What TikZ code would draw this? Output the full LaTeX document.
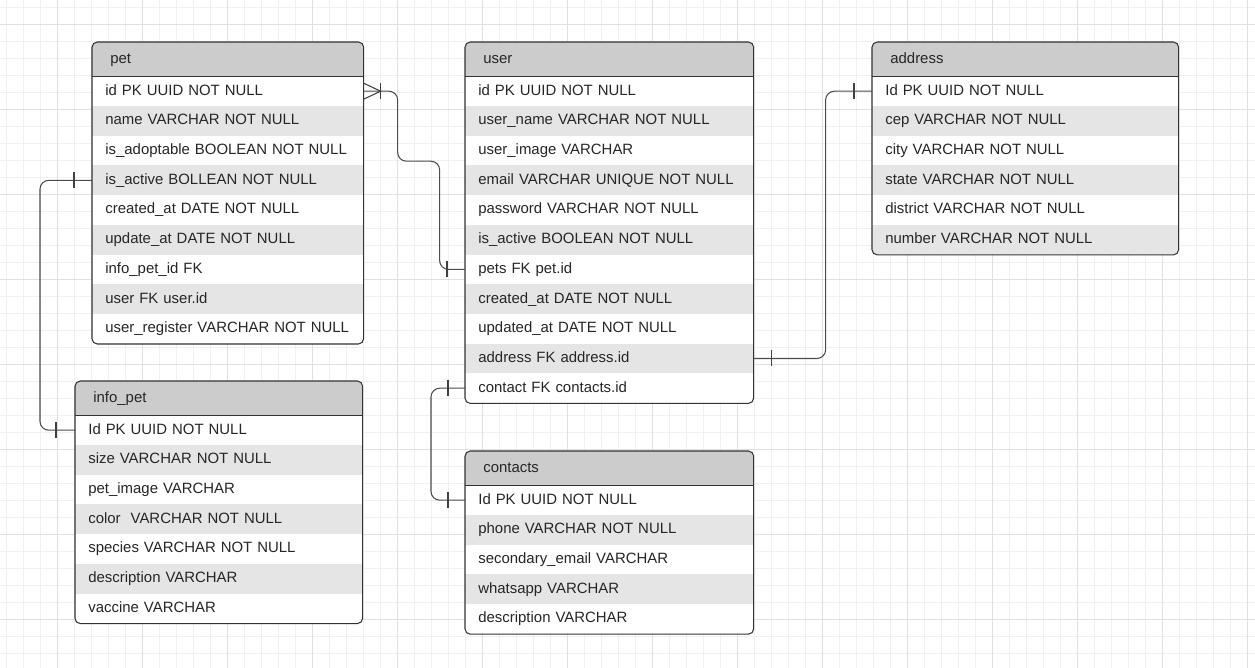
\documentclass[tikz,border=0pt]{standalone}
\usepackage{fontspec}
\setmainfont{Liberation Sans}
\usetikzlibrary{calc}

\begin{document}
\begin{tikzpicture}[x=0.02cm, y=-0.02cm, font=\fontsize{8.5}{10}\selectfont,
	head/.style={rectangle, anchor=north west, fill=black!20, text=black!85, inner xsep=0.36cm, inner ysep=0pt, minimum height=0.68cm, text height=6.3pt, text depth=1.8pt, text width=\hw},
	row/.style={rectangle, anchor=north west, fill=white, text=black!85, inner xsep=0.26cm, inner ysep=0pt, minimum height=0.594cm, text height=6.3pt, text depth=1.8pt, text width=\rw},
	alt/.style={row, fill=black!10},
	tbl/.style={draw=black!80, line width=0.6pt, rounded corners=3pt},
	link/.style={draw=black!70, line width=0.6pt, rounded corners=5pt},
	tick/.style={draw=black!75, line width=0.6pt},
	minorgrid/.style={draw=black!6, line width=0.45pt},
	majorgrid/.style={draw=black!12, line width=0.5pt}]
			%%%%% START %%%%%
			
			\useasboundingbox (0,0) rectangle (1255,668);
			\fill[white] (0,0) rectangle (1255,668);
			
			\foreach \gx in {6,23,...,1255} \draw[minorgrid] (\gx,0) -- (\gx,668);
			\foreach \gy in {7,24,...,668} \draw[minorgrid] (0,\gy) -- (1255,\gy);
			\foreach \gx in {57,142,...,1255} \draw[majorgrid] (\gx,0) -- (\gx,668);
			\foreach \gy in {24,109,...,668} \draw[majorgrid] (0,\gy) -- (1255,\gy);
			
			% pet
			\begin{scope}
				\def\hw{4.70cm}\def\rw{4.90cm}
				\clip[rounded corners=3pt] (92,42) rectangle (363,343.3);
				\node[head] (pet) at (92,42) {pet};
				\node[row] (pet-id) at (92,76) {id PK UUID NOT NULL};
				\node[alt] (pet-name) at (92,105.7) {name VARCHAR NOT NULL};
				\node[row] (pet-adoptable) at (92,135.4) {is\_adoptable BOOLEAN NOT NULL};
				\node[alt] (pet-active) at (92,165.1) {is\_active BOLLEAN NOT NULL};
				\node[row] (pet-created) at (92,194.8) {created\_at DATE NOT NULL};
				\node[alt] (pet-update) at (92,224.5) {update\_at DATE NOT NULL};
				\node[row] (pet-info) at (92,254.2) {info\_pet\_id FK};
				\node[alt] (pet-user) at (92,283.9) {user FK user.id};
				\node[row] (pet-register) at (92,313.6) {user\_register VARCHAR NOT NULL};
			\end{scope}
			\draw[tbl] (pet.north west) rectangle (pet-register.south east);
			\draw[tbl] (pet.south west) -- (pet.south east);
			
			% user
			\begin{scope}
				\def\hw{5.04cm}\def\rw{5.24cm}
				\clip[rounded corners=3pt] (465,42) rectangle (753,402.7);
				\node[head] (user) at (465,42) {user};
				\node[row] (user-id) at (465,76) {id PK UUID NOT NULL};
				\node[alt] (user-name) at (465,105.7) {user\_name VARCHAR NOT NULL};
				\node[row] (user-image) at (465,135.4) {user\_image VARCHAR};
				\node[alt] (user-email) at (465,165.1) {email VARCHAR UNIQUE NOT NULL};
				\node[row] (user-password) at (465,194.8) {password VARCHAR NOT NULL};
				\node[alt] (user-active) at (465,224.5) {is\_active BOOLEAN NOT NULL};
				\node[row] (user-pets) at (465,254.2) {pets FK pet.id};
				\node[alt] (user-created) at (465,283.9) {created\_at DATE NOT NULL};
				\node[row] (user-updated) at (465,313.6) {updated\_at DATE NOT NULL};
				\node[alt] (user-address) at (465,343.3) {address FK address.id};
				\node[row] (user-contact) at (465,373) {contact FK contacts.id};
			\end{scope}
			\draw[tbl] (user.north west) rectangle (user-contact.south east);
			\draw[tbl] (user.south west) -- (user.south east);
			
			% address
			\begin{scope}
				\def\hw{5.40cm}\def\rw{5.60cm}
				\clip[rounded corners=3pt] (872,42) rectangle (1178,254.2);
				\node[head] (address) at (872,42) {address};
				\node[row] (address-id) at (872,76) {Id PK UUID NOT NULL};
				\node[alt] (address-cep) at (872,105.7) {cep VARCHAR NOT NULL};
				\node[row] (address-city) at (872,135.4) {city VARCHAR NOT NULL};
				\node[alt] (address-state) at (872,165.1) {state VARCHAR NOT NULL};
				\node[row] (address-district) at (872,194.8) {district VARCHAR NOT NULL};
				\node[alt] (address-number) at (872,224.5) {number VARCHAR NOT NULL};
			\end{scope}
			\draw[tbl] (address.north west) rectangle (address-number.south east);
			\draw[tbl] (address.south west) -- (address.south east);
			
			% info_pet
			\begin{scope}
				\def\hw{5.02cm}\def\rw{5.22cm}
				\clip[rounded corners=3pt] (75,381) rectangle (362,622.9);
				\node[head] (info) at (75,381) {info\_pet};
				\node[row] (info-id) at (75,415) {Id PK UUID NOT NULL};
				\node[alt] (info-size) at (75,444.7) {size VARCHAR NOT NULL};
				\node[row] (info-image) at (75,474.4) {pet\_image VARCHAR};
				\node[alt] (info-color) at (75,504.1) {color~ VARCHAR NOT NULL};
				\node[row] (info-species) at (75,533.8) {species VARCHAR NOT NULL};
				\node[alt] (info-description) at (75,563.5) {description VARCHAR};
				\node[row] (info-vaccine) at (75,593.2) {vaccine VARCHAR};
			\end{scope}
			\draw[tbl] (info.north west) rectangle (info-vaccine.south east);
			\draw[tbl] (info.south west) -- (info.south east);
			
			% contacts
			\begin{scope}
				\def\hw{5.04cm}\def\rw{5.24cm}
				\clip[rounded corners=3pt] (465,451) rectangle (753,633.5);
				\node[head] (contacts) at (465,451) {contacts};
				\node[row] (contacts-id) at (465,485) {Id PK UUID NOT NULL};
				\node[alt] (contacts-phone) at (465,514.7) {phone VARCHAR NOT NULL};
				\node[row] (contacts-email) at (465,544.4) {secondary\_email VARCHAR};
				\node[alt] (contacts-whatsapp) at (465,574.1) {whatsapp VARCHAR};
				\node[row] (contacts-description) at (465,603.8) {description VARCHAR};
			\end{scope}
			\draw[tbl] (contacts.north west) rectangle (contacts-description.south east);
			\draw[tbl] (contacts.south west) -- (contacts.south east);
			
			% pet -> user
			\draw[link] (pet-id.east) -- ++(34,0) -- ++(0,70) -- ++(42,0) |- (user-pets.west);
			\draw[tick] ($(pet-id.east)+(0,-8)$) -- ($(pet-id.east)+(17,0)$) -- ($(pet-id.east)+(0,8)$);
			\draw[tick] ($(pet-id.east)+(17,-8)$) -- ++(0,16);
			\draw[tick] ($(user-pets.west)+(-18,-8)$) -- ++(0,16);
			
			% pet -> info_pet
			\draw[link] (pet-active.west) -- ++(-52,0) |- (info-id.west);
			\draw[tick] ($(pet-active.west)+(-18,-8)$) -- ++(0,16);
			\draw[tick] ($(info-id.west)+(-19,-8)$) -- ++(0,16);
			
			% user -> address
			\draw[link] (user-address.east) -- ++(72,0) |- (address-id.west);
			\draw[tick] ($(user-address.east)+(18,-8)$) -- ++(0,16);
			\draw[tick] ($(address-id.west)+(-18,-8)$) -- ++(0,16);
			
			% user -> contacts
			\draw[link] (user-contact.west) -- ++(-34,0) |- (contacts-id.west);
			\draw[tick] ($(user-contact.west)+(-17,-8)$) -- ++(0,16);
			\draw[tick] ($(contacts-id.west)+(-17,-8)$) -- ++(0,16);
			
			%%%%% END %%%%%
\end{tikzpicture}
\end{document}
